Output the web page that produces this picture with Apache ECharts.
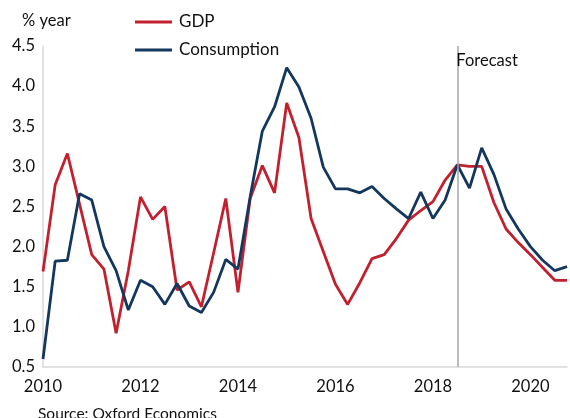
<!DOCTYPE html>
<html>
<head>
<meta charset="utf-8">
<script src="https://cdn.jsdelivr.net/npm/echarts@6/dist/echarts.min.js"></script>
<style>
  html, body { margin: 0; padding: 0; background: #fff; }
  #chart { width: 570px; height: 418px; }
</style>
</head>
<body>
<div id="chart"></div>
<script>
// Quarterly periods, 2010 Q1 to 2020 Q4
const years = [2010, 2011, 2012, 2013, 2014, 2015, 2016, 2017, 2018, 2019, 2020];
const quarters = ['Q1', 'Q2', 'Q3', 'Q4'];
const periods = [];
years.forEach(y => quarters.forEach(q => periods.push(y + ' ' + q)));

// Year labels shown on the horizontal axis (first quarter of each)
const yearTicks = ['2010', '2012', '2014', '2016', '2018', '2020'];

// % year growth
const gdp = [
  1.69, 2.77, 3.16, 2.53, 1.90, 1.72, 0.92, 1.70,
  2.62, 2.34, 2.50, 1.46, 1.56, 1.25, 1.92, 2.60,
  1.43, 2.60, 3.01, 2.67, 3.79, 3.36, 2.35, 1.94,
  1.53, 1.28, 1.55, 1.85, 1.90, 2.10, 2.33, 2.45,
  2.56, 2.83, 3.02, 3.00, 3.00, 2.55, 2.22, 2.05,
  1.90, 1.74, 1.58, 1.58
];
const consumption = [
  0.60, 1.82, 1.83, 2.66, 2.58, 2.00, 1.70, 1.21,
  1.58, 1.50, 1.28, 1.54, 1.26, 1.18, 1.43, 1.84,
  1.72, 2.62, 3.44, 3.74, 4.23, 3.99, 3.60, 2.99,
  2.72, 2.72, 2.67, 2.75, 2.60, 2.47, 2.35, 2.68,
  2.35, 2.58, 3.02, 2.73, 3.23, 2.90, 2.47, 2.22,
  2.00, 1.83, 1.70, 1.75
];

// Forecast begins here
const forecastStart = '2018 Q3';

const FONT = 'Lato, "Open Sans", sans-serif';
const chart = echarts.init(document.getElementById('chart'), null, { renderer: 'canvas' });

chart.setOption({
  animation: false,
  backgroundColor: '#ffffff',
  textStyle: { fontFamily: FONT },
  title: [
    { text: '% year', left: 17, top: 7,
      textStyle: { fontFamily: FONT, fontSize: 16.5, fontWeight: 'normal', color: '#111' } },
    { text: 'Source: Oxford Economics', left: 33, top: 401,
      textStyle: { fontFamily: FONT, fontSize: 15.5, fontWeight: 'normal', color: '#111' } }
  ],
  legend: {
    orient: 'vertical',
    left: 130, top: 8,
    icon: 'rect',
    itemWidth: 37, itemHeight: 3,
    itemGap: 10,
    textStyle: { fontFamily: FONT, fontSize: 17, color: '#111', padding: [0, 0, 0, 2], lineHeight: 18 },
    data: ['GDP', 'Consumption']
  },
  grid: { left: 43, right: 3, top: 46, bottom: 51 },
  xAxis: {
    type: 'category',
    data: periods,
    boundaryGap: false,
    axisLine: { lineStyle: { color: '#d9d9d9', width: 1.5 } },
    axisTick: { show: false },
    axisLabel: {
      interval: (idx, val) => val.endsWith('Q1') && yearTicks.includes(val.slice(0, 4)),
      formatter: val => val.slice(0, 4),
      fontFamily: FONT, fontSize: 16.5, color: '#111', margin: 11
    },
    splitLine: { show: false }
  },
  yAxis: {
    type: 'value',
    min: 0.5, max: 4.5, interval: 0.5,
    axisLine: { show: true, lineStyle: { color: '#d9d9d9', width: 1.5 } },
    axisTick: { show: false },
    axisLabel: {
      formatter: v => v.toFixed(1),
      fontFamily: FONT, fontSize: 16.5, color: '#111', margin: 8
    },
    splitLine: { show: false }
  },
  series: [
    {
      name: 'GDP', type: 'line', data: gdp,
      symbol: 'none',
      lineStyle: { color: '#c3202f', width: 2.8 },
      itemStyle: { color: '#c3202f' },
      markLine: {
        silent: true,
        symbol: 'none',
        lineStyle: { color: '#a6a6a6', width: 1.5, type: 'solid' },
        label: {
          show: true, position: 'end', formatter: 'Forecast',
          align: 'left', verticalAlign: 'top',
          fontFamily: FONT, fontSize: 16.5, color: '#111',
          offset: [-1, 11]
        },
        data: [{ xAxis: forecastStart }]
      }
    },
    {
      name: 'Consumption', type: 'line', data: consumption,
      symbol: 'none',
      lineStyle: { color: '#14375e', width: 2.8 },
      itemStyle: { color: '#14375e' }
    }
  ]
});
</script>
</body>
</html>
